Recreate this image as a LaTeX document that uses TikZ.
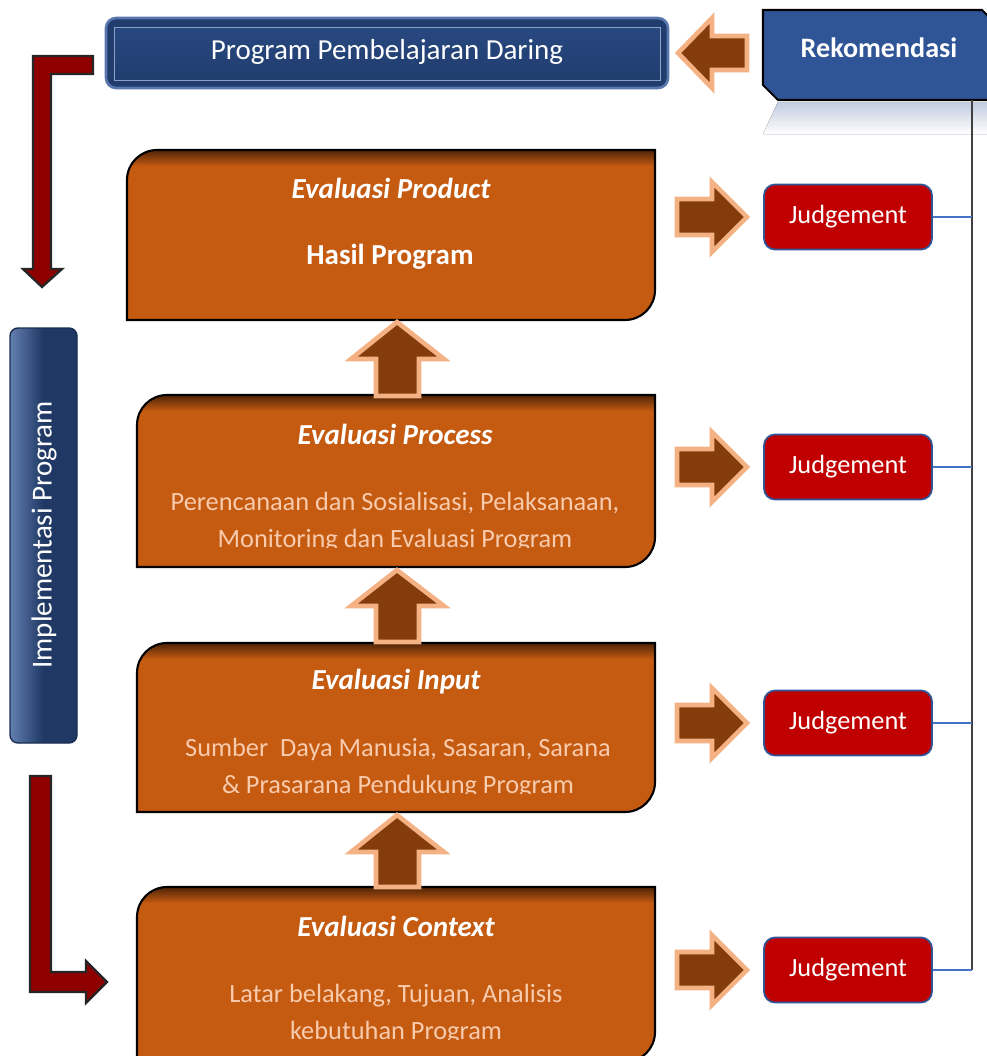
\documentclass[tikz,border=0pt]{standalone}
\usepackage{fontspec}
\setmainfont{Carlito}
\usetikzlibrary{calc,positioning}

\definecolor{evalorange}{HTML}{C55A11}
\definecolor{arrowbrown}{HTML}{843C0C}
\definecolor{arrowedge}{HTML}{F4B183}
\definecolor{bodytext}{HTML}{F8CBAD}
\definecolor{judgered}{HTML}{C00000}
\definecolor{rekoblue}{HTML}{2F5597}
\definecolor{bannerblue}{HTML}{203D6E}
\definecolor{implblue}{HTML}{1F3864}
\definecolor{bentred}{HTML}{8E0000}
\definecolor{linkblue}{HTML}{4472C4}

% box with round top-left and bottom-right corners
\newcommand{\evalpath}[4]{(#1,#4) -- (#1,#2+30) arc[start angle=180,end angle=90,radius=0.6cm] -- (#3,#2) -- (#3,#4-30) arc[start angle=0,end angle=-90,radius=0.6cm] -- cycle}
\newcommand{\evalbox}[4]{%
  \fill[evalorange] \evalpath{#1}{#2}{#3}{#4};
  \begin{scope}
    \clip \evalpath{#1}{#2}{#3}{#4};
    \fill[top color=black!60!evalorange, bottom color=evalorange] (#1,#2) rectangle (#3,#2+16);
  \end{scope}
  \draw[line width=1.2pt] \evalpath{#1}{#2}{#3}{#4};}
\newcommand{\rightblock}[1]{\draw[blockarrow] (677,#1-18) -- (712,#1-18) -- (712,#1-35) -- (747,#1) -- (712,#1+35) -- (712,#1+18) -- (677,#1+18) -- cycle;}
\newcommand{\upblock}[3]{\draw[blockarrow] (397,#1) -- (444,#2) -- (419,#2) -- (419,#3) -- (376,#3) -- (376,#2) -- (351,#2) -- cycle;}

\begin{document}
\begin{tikzpicture}[x=0.02cm, y=-0.02cm,
  evaltitle/.style={text=white, font=\fontsize{16.5}{19}\selectfont\bfseries\itshape},
  evalbody/.style={text=bodytext, align=center, font=\fontsize{15}{21.5}\selectfont},
  blockarrow/.style={fill=arrowbrown, draw=arrowedge, line width=2.6pt, line join=miter},
  bentarrow/.style={fill=bentred, draw=black!85, line width=1.3pt, line join=miter},
  judgebox/.style={fill=judgered, draw=rekoblue, line width=1pt, rounded corners=0.22cm,
    minimum width=3.36cm, minimum height=1.3cm, text=white, font=\fontsize{15}{18}\selectfont},
  link/.style={draw=linkblue, line width=0.6pt}]

  \useasboundingbox (0,0) rectangle (987,1056);

  % top banner
  \draw[fill=bannerblue, draw=rekoblue!80, line width=1.5pt, rounded corners=0.2cm] (106,18) rectangle (668,88);
  \draw[top color=rekoblue!85!black, bottom color=bannerblue, draw=rekoblue!55!white, line width=0.5pt] (114,27) rectangle (660,80);
  \node[text=white, font=\fontsize{16.5}{19}\selectfont] (daring) at (387,52) {Program Pembelajaran Daring};

  % Rekomendasi
  \fill[top color=rekoblue!30, bottom color=white] (778,102) -- (987,102) -- (987,134) -- (763,134) -- cycle;
  \draw[fill=rekoblue, line width=1.2pt] (763,10) -- (982,10) -- (989,17) -- (989,100) -- (778,100) -- (763,85) -- cycle;
  \node[text=white, font=\fontsize{16}{19}\selectfont\bfseries] (reko) at (879,48) {Rekomendasi};
  \coordinate (spine top) at (972,100);
  \coordinate (spine end) at (972,970);
  \draw[black!75, line width=0.6pt] (spine top) -- (spine end);

  % arrow back to the banner
  \draw[blockarrow] (678,53) -- (712,18) -- (712,36) -- (747,36) -- (747,70) -- (712,70) -- (712,88) -- cycle;

  % Implementasi Program
  \draw[left color=rekoblue!75!white, right color=implblue, middle color=implblue, draw=implblue!80!black,
    line width=0.8pt, rounded corners=0.16cm] (10,328) rectangle (77,743);
  \node[rotate=90, text=white, font=\fontsize{16.5}{19}\selectfont] (impl) at (44,535) {Implementasi Program};

  % bent arrows
  \draw[bentarrow] (93,56) -- (33,56) -- (33,269) -- (23,269) -- (42,287) -- (62,269) -- (51,269) -- (51,74) -- (93,74) -- cycle;
  \draw[bentarrow] (30,776) -- (51,776) -- (51,972) -- (86,972) -- (86,961) -- (107,982) -- (86,1003) -- (86,992) -- (30,992) -- cycle;

  % evaluation boxes
  \evalbox{127}{150}{655}{320}
  \evalbox{137}{395}{655}{567}
  \evalbox{137}{643}{655}{812}
  \evalbox{137}{887}{655}{1062}

  \node[evaltitle] (product title) at (391,188) {Evaluasi Product};
  \node[text=white, font=\fontsize{16.5}{19}\selectfont\bfseries] (product body) at (390,257) {Hasil Program};

  \node[evaltitle] (process title) at (395,434) {Evaluasi Process};
  \begin{scope}
    \clip (137,395) rectangle (655,547);
    \node[evalbody] (process body) at (395,522) {Perencanaan dan Sosialisasi, Pelaksanaan,\\Monitoring dan Evaluasi Program};
  \end{scope}

  \node[evaltitle] (input title) at (396,682) {Evaluasi Input};
  \begin{scope}
    \clip (137,643) rectangle (655,793);
    \node[evalbody] (input body) at (398,768) {Sumber~ Daya Manusia, Sasaran, Sarana\\\& Prasarana Pendukung Program};
  \end{scope}

  \node[evaltitle] (context title) at (396,926) {Evaluasi Context};
  \begin{scope}
    \clip (137,887) rectangle (655,1039);
    \node[evalbody] (context body) at (396,1014) {Latar belakang, Tujuan, Analisis\\kebutuhan Program};
  \end{scope}

  % arrows between the boxes
  \upblock{322}{359}{396}
  \upblock{570}{606}{642}
  \upblock{815}{852}{887}

  % judgements
  \rightblock{217}
  \rightblock{467}
  \rightblock{723}
  \rightblock{970}
  \node[judgebox] (judge product) at (848,217) {Judgement};
  \node[judgebox] (judge process) at (848,467) {Judgement};
  \node[judgebox] (judge input) at (848,723) {Judgement};
  \node[judgebox] (judge context) at (848,970) {Judgement};
  \foreach \j in {product, process, input, context}
    \draw[link] (judge \j.east) -- (judge \j.east -| spine top);
\end{tikzpicture}
\end{document}
